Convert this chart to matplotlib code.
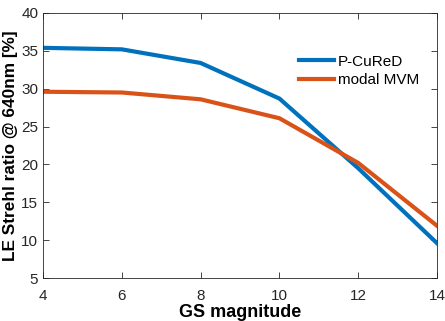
import matplotlib
matplotlib.use("Agg")
import matplotlib.pyplot as plt

gs_mag = [4, 6, 8, 10, 12, 14]
pcured = [35.4, 35.2, 33.4, 28.7, 19.5, 9.6]
modal_mvm = [29.6, 29.5, 28.6, 26.1, 20.2, 11.9]

plt.rcParams["font.family"] = ["Liberation Sans", "DejaVu Sans"]

fig = plt.figure(figsize=(4.45, 3.21), dpi=100)
ax = fig.add_axes([43 / 445, 1 - 278 / 321, (437 - 43) / 445, (278 - 13) / 321])

ax.plot(gs_mag, pcured, color="#0072BD", lw=3, label="P-CuReD")
ax.plot(gs_mag, modal_mvm, color="#D95319", lw=3, label="modal MVM")

ax.set_xlim(4, 14)
ax.set_ylim(5, 40)
ax.set_xticks(range(4, 15, 2))
ax.set_yticks(range(5, 41, 5))
ax.tick_params(direction="in", top=True, right=True, labelsize=11,
               colors="#262626", length=4, width=0.6)
ax.tick_params(axis="x", pad=8)
for s in ax.spines.values():
    s.set_color("#262626")
    s.set_linewidth(0.6)

ax.set_xlabel("GS magnitude", fontsize=13, fontweight="bold", labelpad=0.5)
ax.set_ylabel("LE Strehl ratio @ 640nm [%]", fontsize=12.4, fontweight="bold", labelpad=2)

ax.legend(loc="upper right", bbox_to_anchor=(0.99, 0.895), frameon=False,
          fontsize=11, handlelength=2.3, handletextpad=0.25, labelspacing=0.3)

fig.savefig("out.png", dpi=100)
